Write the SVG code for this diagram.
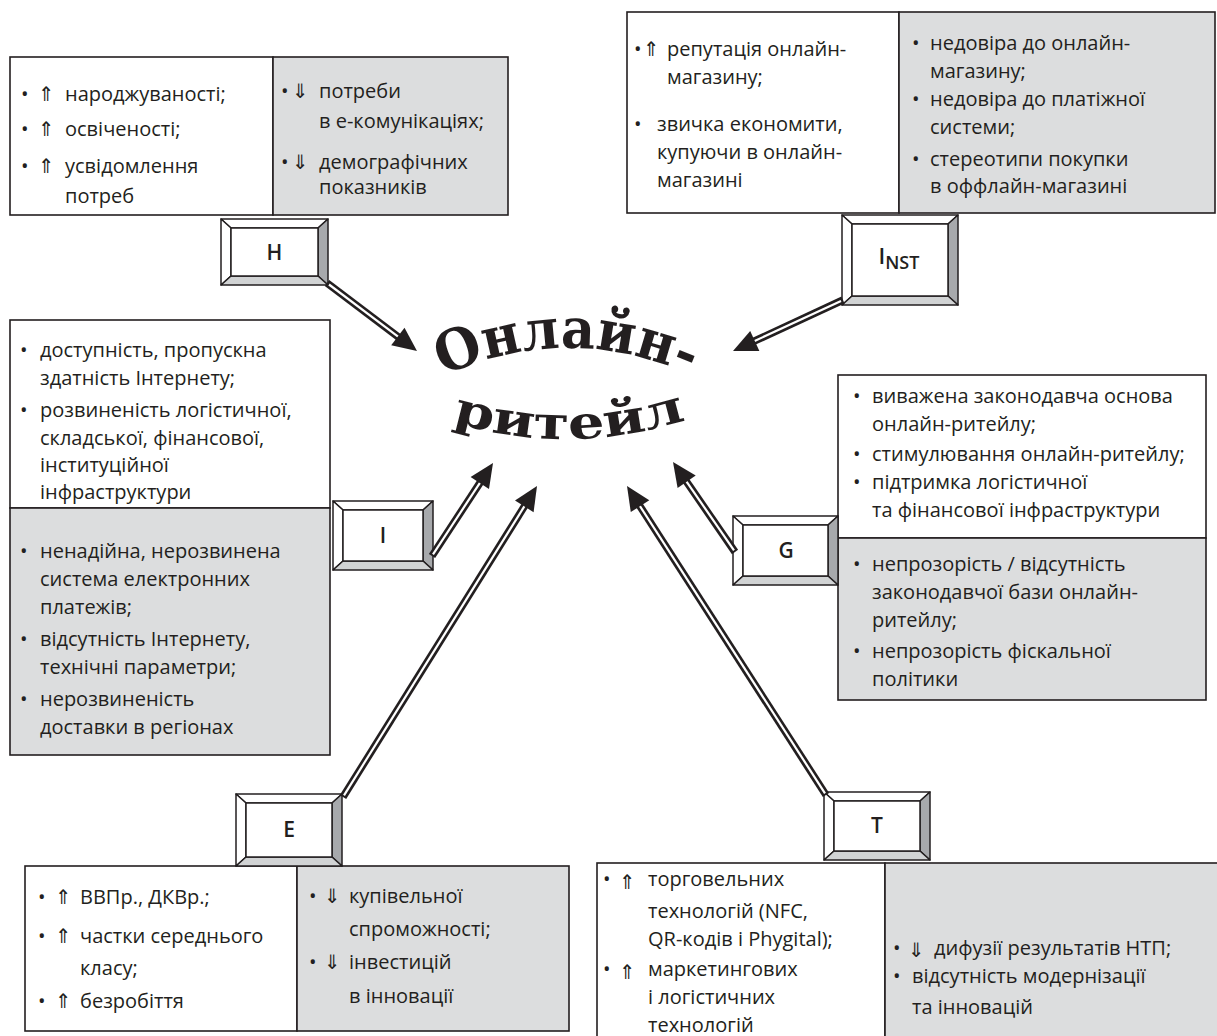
<svg xmlns="http://www.w3.org/2000/svg" width="1217" height="1036" viewBox="0 0 1217 1036">
<style>
.tx{font-family:"Open Sans","Noto Sans",sans-serif;font-size:20px;fill:#231f20}
.ar{font-family:"DejaVu Sans",sans-serif;font-size:20px}
.lb{font-family:"Open Sans","Noto Sans",sans-serif;font-size:21px;font-weight:600;fill:#231f20;text-anchor:middle}
.pw{fill:#fff;stroke:#231f20;stroke-width:1.6}
.pg{fill:#dcddde;stroke:#231f20;stroke-width:1.6}
.fw{fill:#fff;stroke:#231f20;stroke-width:1.5;stroke-linejoin:round}
.fr{fill:#a7a9ac;stroke:#231f20;stroke-width:1.5;stroke-linejoin:round}
.fb{fill:#d1d3d4;stroke:#231f20;stroke-width:1.5;stroke-linejoin:round}
.sh{stroke:#231f20;stroke-width:7.5;fill:none}
.si{stroke:#fff;stroke-width:2.2;fill:none}
.ah{fill:#231f20}
.big{font-family:"DejaVu Serif","Liberation Serif",serif;font-weight:bold;fill:#231f20}
</style>
<rect width="1217" height="1036" fill="#fff"/>

<!-- H panel -->
<g id="panel-H">
<rect class="pw" x="10" y="57" width="263" height="158"/>
<rect class="pg" x="273" y="57" width="235" height="158"/>
<text class="tx" y="101"><tspan x="21">•</tspan><tspan class="ar" x="38">⇑</tspan><tspan x="65">народжуваності;</tspan></text>
<text class="tx" y="136"><tspan x="21">•</tspan><tspan class="ar" x="38">⇑</tspan><tspan x="65">освіченості;</tspan></text>
<text class="tx" y="173"><tspan x="21">•</tspan><tspan class="ar" x="38">⇑</tspan><tspan x="65">усвідомлення</tspan></text>
<text class="tx" y="203" x="65">потреб</text>
<text class="tx" y="98"><tspan x="281">•</tspan><tspan class="ar" x="292">⇓</tspan><tspan x="319">потреби</tspan></text>
<text class="tx" y="128" x="319">в е-комунікаціях;</text>
<text class="tx" y="169"><tspan x="281">•</tspan><tspan class="ar" x="292">⇓</tspan><tspan x="319">демографічних</tspan></text>
<text class="tx" y="194" x="319">показників</text>
</g>

<!-- INST panel -->
<g id="panel-INST">
<rect class="pw" x="627" y="12" width="272" height="201"/>
<rect class="pg" x="899" y="12" width="316" height="201"/>
<text class="tx" y="56"><tspan x="634">•</tspan><tspan class="ar" x="643">⇑</tspan><tspan x="667">репутація онлайн-</tspan></text>
<text class="tx" y="84" x="667">магазину;</text>
<text class="tx" y="131"><tspan x="634">•</tspan><tspan x="657">звичка економити,</tspan></text>
<text class="tx" y="159" x="657">купуючи в онлайн-</text>
<text class="tx" y="187" x="657">магазині</text>
<text class="tx" y="50"><tspan x="912">•</tspan><tspan x="930">недовіра до онлайн-</tspan></text>
<text class="tx" y="78" x="930">магазину;</text>
<text class="tx" y="106"><tspan x="912">•</tspan><tspan x="930">недовіра до платіжної</tspan></text>
<text class="tx" y="134" x="930">системи;</text>
<text class="tx" y="166"><tspan x="912">•</tspan><tspan x="930">стереотипи покупки</tspan></text>
<text class="tx" y="193" x="930">в оффлайн-магазині</text>
</g>

<!-- I panel -->
<g id="panel-I">
<rect class="pw" x="10" y="320" width="320" height="188"/>
<rect class="pg" x="10" y="508" width="320" height="247"/>
<text class="tx" y="357"><tspan x="20">•</tspan><tspan x="40">доступність, пропускна</tspan></text>
<text class="tx" y="385" x="40">здатність Інтернету;</text>
<text class="tx" y="417"><tspan x="20">•</tspan><tspan x="40">розвиненість логістичної,</tspan></text>
<text class="tx" y="445" x="40">складської, фінансової,</text>
<text class="tx" y="472" x="40">інституційної</text>
<text class="tx" y="499" x="40">інфраструктури</text>
<text class="tx" y="558"><tspan x="20">•</tspan><tspan x="40">ненадійна, нерозвинена</tspan></text>
<text class="tx" y="586" x="40">система електронних</text>
<text class="tx" y="614" x="40">платежів;</text>
<text class="tx" y="646"><tspan x="20">•</tspan><tspan x="40">відсутність Інтернету,</tspan></text>
<text class="tx" y="674" x="40">технічні параметри;</text>
<text class="tx" y="706"><tspan x="20">•</tspan><tspan x="40">нерозвиненість</tspan></text>
<text class="tx" y="734" x="40">доставки в регіонах</text>
</g>

<!-- G panel -->
<g id="panel-G">
<rect class="pw" x="838" y="375" width="368" height="163"/>
<rect class="pg" x="838" y="538" width="368" height="162"/>
<text class="tx" y="403"><tspan x="853">•</tspan><tspan x="872">виважена законодавча основа</tspan></text>
<text class="tx" y="431" x="872">онлайн-ритейлу;</text>
<text class="tx" y="461"><tspan x="853">•</tspan><tspan x="872">стимулювання онлайн-ритейлу;</tspan></text>
<text class="tx" y="489"><tspan x="853">•</tspan><tspan x="872">підтримка логістичної</tspan></text>
<text class="tx" y="517" x="872">та фінансової інфраструктури</text>
<text class="tx" y="571"><tspan x="853">•</tspan><tspan x="872">непрозорість / відсутність</tspan></text>
<text class="tx" y="599" x="872">законодавчої бази онлайн-</text>
<text class="tx" y="627" x="872">ритейлу;</text>
<text class="tx" y="658"><tspan x="853">•</tspan><tspan x="872">непрозорість фіскальної</tspan></text>
<text class="tx" y="686" x="872">політики</text>
</g>

<!-- E panel -->
<g id="panel-E">
<rect class="pw" x="25" y="866" width="272" height="165"/>
<rect class="pg" x="297" y="866" width="272" height="165"/>
<text class="tx" y="904"><tspan x="38">•</tspan><tspan class="ar" x="55">⇑</tspan><tspan x="80">ВВПр., ДКВр.;</tspan></text>
<text class="tx" y="943"><tspan x="38">•</tspan><tspan class="ar" x="55">⇑</tspan><tspan x="80">частки середнього</tspan></text>
<text class="tx" y="975" x="80">класу;</text>
<text class="tx" y="1008"><tspan x="38">•</tspan><tspan class="ar" x="55">⇑</tspan><tspan x="80">безробіття</tspan></text>
<text class="tx" y="903"><tspan x="309">•</tspan><tspan class="ar" x="324">⇓</tspan><tspan x="349">купівельної</tspan></text>
<text class="tx" y="936" x="349">спроможності;</text>
<text class="tx" y="969"><tspan x="309">•</tspan><tspan class="ar" x="324">⇓</tspan><tspan x="349">інвестицій</tspan></text>
<text class="tx" y="1003" x="349">в інновації</text>
</g>

<!-- T panel -->
<g id="panel-T">
<rect class="pw" x="597" y="863" width="288" height="180"/>
<rect class="pg" x="885" y="863" width="340" height="180"/>
<text class="tx" y="886"><tspan x="603">•</tspan><tspan class="ar" x="619" dy="3">⇑</tspan><tspan x="648" dy="-3">торговельних</tspan></text>
<text class="tx" y="918" x="648">технологій (NFC,</text>
<text class="tx" y="946" x="648">QR-кодів і Phygital);</text>
<text class="tx" y="976"><tspan x="603">•</tspan><tspan class="ar" x="619" dy="3">⇑</tspan><tspan x="648" dy="-3">маркетингових</tspan></text>
<text class="tx" y="1004" x="648">і логістичних</text>
<text class="tx" y="1032" x="648">технологій</text>
<text class="tx" y="955"><tspan x="893">•</tspan><tspan class="ar" x="908" dy="2">⇓</tspan><tspan x="934" dy="-2">дифузії результатів НТП;</tspan></text>
<text class="tx" y="983"><tspan x="893">•</tspan><tspan x="912">відсутність модернізації</tspan></text>
<text class="tx" y="1014" x="912">та інновацій</text>
</g>

<!-- bevel boxes -->
<g id="node-H">
<polygon class="fw" points="221,219 328,219 318,228 231,228"/>
<polygon class="fw" points="221,219 231,228 231,276 221,285"/>
<polygon class="fr" points="328,219 328,285 318,276 318,228"/>
<polygon class="fb" points="221,285 231,276 318,276 328,285"/>
<rect class="fw" x="231" y="228" width="87" height="48"/>
<text class="lb" x="274.5" y="260">H</text>
</g>
<g id="node-INST">
<polygon class="fw" points="842,215 958,215 948,224 852,224"/>
<polygon class="fw" points="842,215 852,224 852,296 842,305"/>
<polygon class="fr" points="958,215 958,305 948,296 948,224"/>
<polygon class="fb" points="842,305 852,296 948,296 958,305"/>
<rect class="fw" x="852" y="224" width="96" height="72"/>
<text class="lb" x="899" y="264"><tspan font-size="22">I</tspan><tspan font-size="18" dy="5">NST</tspan></text>
</g>
<g id="node-I">
<polygon class="fw" points="333,501 433,501 423,510 343,510"/>
<polygon class="fw" points="333,501 343,510 343,561 333,570"/>
<polygon class="fr" points="433,501 433,570 423,561 423,510"/>
<polygon class="fb" points="333,570 343,561 423,561 433,570"/>
<rect class="fw" x="343" y="510" width="80" height="51"/>
<text class="lb" x="383" y="543">I</text>
</g>
<g id="node-G">
<polygon class="fw" points="733,516 838,516 828,525 743,525"/>
<polygon class="fw" points="733,516 743,525 743,576 733,585"/>
<polygon class="fr" points="838,516 838,585 828,576 828,525"/>
<polygon class="fb" points="733,585 743,576 828,576 838,585"/>
<rect class="fw" x="743" y="525" width="85" height="51"/>
<text class="lb" x="786" y="558">G</text>
</g>
<g id="node-E">
<polygon class="fw" points="236,794 342,794 332,803 246,803"/>
<polygon class="fw" points="236,794 246,803 246,857 236,866"/>
<polygon class="fr" points="342,794 342,866 332,857 332,803"/>
<polygon class="fb" points="236,866 246,857 332,857 342,866"/>
<rect class="fw" x="246" y="803" width="86" height="54"/>
<text class="lb" x="289" y="837">E</text>
</g>
<g id="node-T">
<polygon class="fw" points="824,792 930,792 920,801 834,801"/>
<polygon class="fw" points="824,792 834,801 834,851 824,860"/>
<polygon class="fr" points="930,792 930,860 920,851 920,801"/>
<polygon class="fb" points="824,860 834,851 920,851 930,860"/>
<rect class="fw" x="834" y="801" width="86" height="50"/>
<text class="lb" x="877" y="833">T</text>
</g>

<!-- connectors -->
<g id="connectors">
<line class="sh" x1="327" y1="283" x2="399.4" y2="337.7"/>
<line class="si" x1="329" y1="284.5" x2="399.4" y2="337.7"/>
<polygon class="ah" points="417,351 391.2,345.3 404.5,327.8"/>

<line class="sh" x1="843" y1="300" x2="753" y2="341.7"/>
<line class="si" x1="841" y1="301" x2="753" y2="341.7"/>
<polygon class="ah" points="733,351 750.2,330.9 759.4,350.9"/>

<line class="sh" x1="432" y1="556" x2="480.9" y2="481.4"/>
<line class="si" x1="433" y1="554.3" x2="480.9" y2="481.4"/>
<polygon class="ah" points="493,463 489,489.1 470.6,477"/>

<line class="sh" x1="343" y1="797" x2="525.4" y2="504.7"/>
<line class="si" x1="344" y1="795.3" x2="525.4" y2="504.7"/>
<polygon class="ah" points="537,486 533.6,512.2 515,500.5"/>

<line class="sh" x1="735" y1="552" x2="685.5" y2="480.1"/>
<line class="si" x1="734" y1="550.3" x2="685.5" y2="480.1"/>
<polygon class="ah" points="673,462 695.7,475.5 677.6,488"/>

<line class="sh" x1="826" y1="795" x2="638.9" y2="504.5"/>
<line class="si" x1="825" y1="793.3" x2="638.9" y2="504.5"/>
<polygon class="ah" points="627,486 649.3,500.2 630.8,512.1"/>
</g>

<!-- central title -->
<g id="node-center">
<defs>
<path id="arcTop" d="M443,376 Q572,318 702,380"/>
<path id="arcBot" d="M452,422 Q570,458 692,418"/>
</defs>
<text class="big" font-size="56"><textPath href="#arcTop" textLength="255" lengthAdjust="spacingAndGlyphs">Онлайн-</textPath></text>
<text class="big" font-size="46"><textPath href="#arcBot" textLength="238" lengthAdjust="spacingAndGlyphs">ритейл</textPath></text>
</g>
</svg>
